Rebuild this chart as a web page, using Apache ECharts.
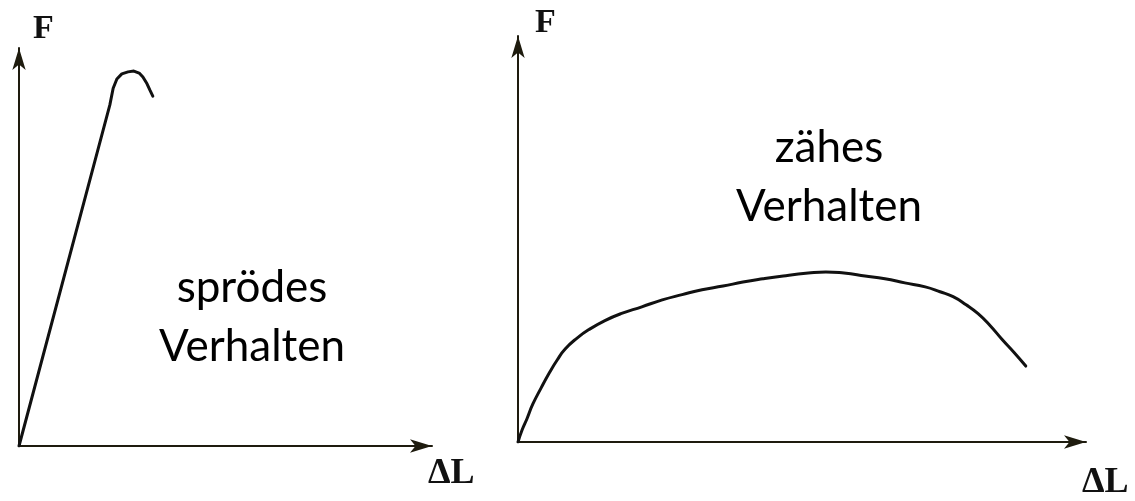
<!DOCTYPE html>
<html>
<head>
<meta charset="utf-8">
<script src="https://cdn.jsdelivr.net/npm/echarts@6/dist/echarts.min.js"></script>
<style>
html,body{margin:0;padding:0;background:#fff;}
#c{width:1135px;height:501px;}
</style>
</head>
<body>
<div id="c"></div>
<script>
// Brittle behaviour (left diagram): elongation ΔL vs force F (arbitrary units 0-100)
const brittleDL = [0, 22.0, 22.8, 23.7, 24.9, 26.4, 27.8, 29.1, 30.0, 31.0, 31.7, 32.4];
const brittleF  = [0, 85.7, 89.9, 92.2, 93.5, 94.0, 94.2, 93.7, 92.7, 91.0, 89.4, 87.9];

// Ductile behaviour (right diagram)
const ductileDL = [0, 0.7, 1.6, 2.6, 4.1, 5.5, 6.9, 8.3, 10.4, 12.5, 15.3, 18.1, 21.8, 25.4, 28.9, 32.4, 36.1, 39.6, 43.1, 46.7, 51.1, 54.2, 57.4, 61.1, 64.6, 68.1, 71.7, 74.3, 76.6, 78.9, 81.0, 83.1, 85.2, 87.3, 89.4];
const ductileF  = [0, 2.9, 5.8, 9.3, 13.4, 17.0, 20.2, 22.9, 25.6, 27.7, 29.9, 31.6, 33.3, 35.0, 36.3, 37.5, 38.4, 39.4, 40.2, 40.9, 41.6, 41.9, 41.6, 40.9, 40.2, 39.2, 38.2, 37.0, 35.8, 33.8, 31.6, 28.7, 25.3, 22.1, 18.7];

const axisNames = { force: 'F', elongation: 'ΔL' };
const labels = { brittle: 'sprödes\nVerhalten', ductile: 'zähes\nVerhalten' };

const axisColor = '#1e1b0e';
const lineColor = '#111';
const serif = '"Liberation Serif", "DejaVu Serif", serif';

function zip(a, b) { return a.map((v, i) => [v, b[i]]); }

const baseAxisLine = {
  show: true,
  lineStyle: { color: axisColor, width: 2 },
  symbol: ['none', 'arrow'],
  symbolSize: [10, 22]
};

function xAx(gridIndex, gap, padTop) {
  return {
    type: 'value', gridIndex, min: 0, max: 100,
    axisLine: baseAxisLine, axisTick: { show: false }, axisLabel: { show: false }, splitLine: { show: false },
    name: axisNames.elongation, nameLocation: 'end', nameGap: gap,
    nameTextStyle: { fontFamily: serif, fontWeight: 'bold', fontSize: 36, color: '#111', align: 'left', verticalAlign: 'top', padding: [padTop, 0, 0, 0] }
  };
}
function yAx(gridIndex, gap, padLeft) {
  return {
    type: 'value', gridIndex, min: 0, max: 100,
    axisLine: baseAxisLine, axisTick: { show: false }, axisLabel: { show: false }, splitLine: { show: false },
    name: axisNames.force, nameLocation: 'end', nameGap: gap,
    nameTextStyle: { fontFamily: serif, fontWeight: 'bold', fontSize: 34, color: '#111', align: 'left', verticalAlign: 'top', padding: [0, 0, 0, padLeft] }
  };
}

const chart = echarts.init(document.getElementById('c'), null, { renderer: 'canvas' });
chart.setOption({
  backgroundColor: '#fff',
  animation: false,
  grid: [
    { left: 19, top: 48, width: 413, height: 398 },
    { left: 518, top: 36, width: 568, height: 411 }
  ],
  xAxis: [xAx(0, -4, 10), xAx(1, -4, 23)],
  yAxis: [yAx(0, 36, 14), yAx(1, 30, 17)],
  series: [
    {
      type: 'line', xAxisIndex: 0, yAxisIndex: 0, data: zip(brittleDL, brittleF),
      showSymbol: false, symbol: 'none', smooth: false,
      lineStyle: { color: lineColor, width: 3, join: 'round', cap: 'round' }
    },
    {
      type: 'line', xAxisIndex: 1, yAxisIndex: 1, data: zip(ductileDL, ductileF),
      showSymbol: false, symbol: 'none', smooth: true,
      lineStyle: { color: lineColor, width: 3, join: 'round', cap: 'round' }
    }
  ],
  graphic: [
    {
      type: 'text', x: 252, y: 317,
      style: { text: labels.brittle, font: '44px Lato, "Noto Sans", sans-serif', fill: '#000', align: 'center', verticalAlign: 'middle', lineHeight: 59 }
    },
    {
      type: 'text', x: 829, y: 177,
      style: { text: labels.ductile, font: '44px Lato, "Noto Sans", sans-serif', fill: '#000', align: 'center', verticalAlign: 'middle', lineHeight: 59 }
    }
  ]
});
</script>
</body>
</html>
